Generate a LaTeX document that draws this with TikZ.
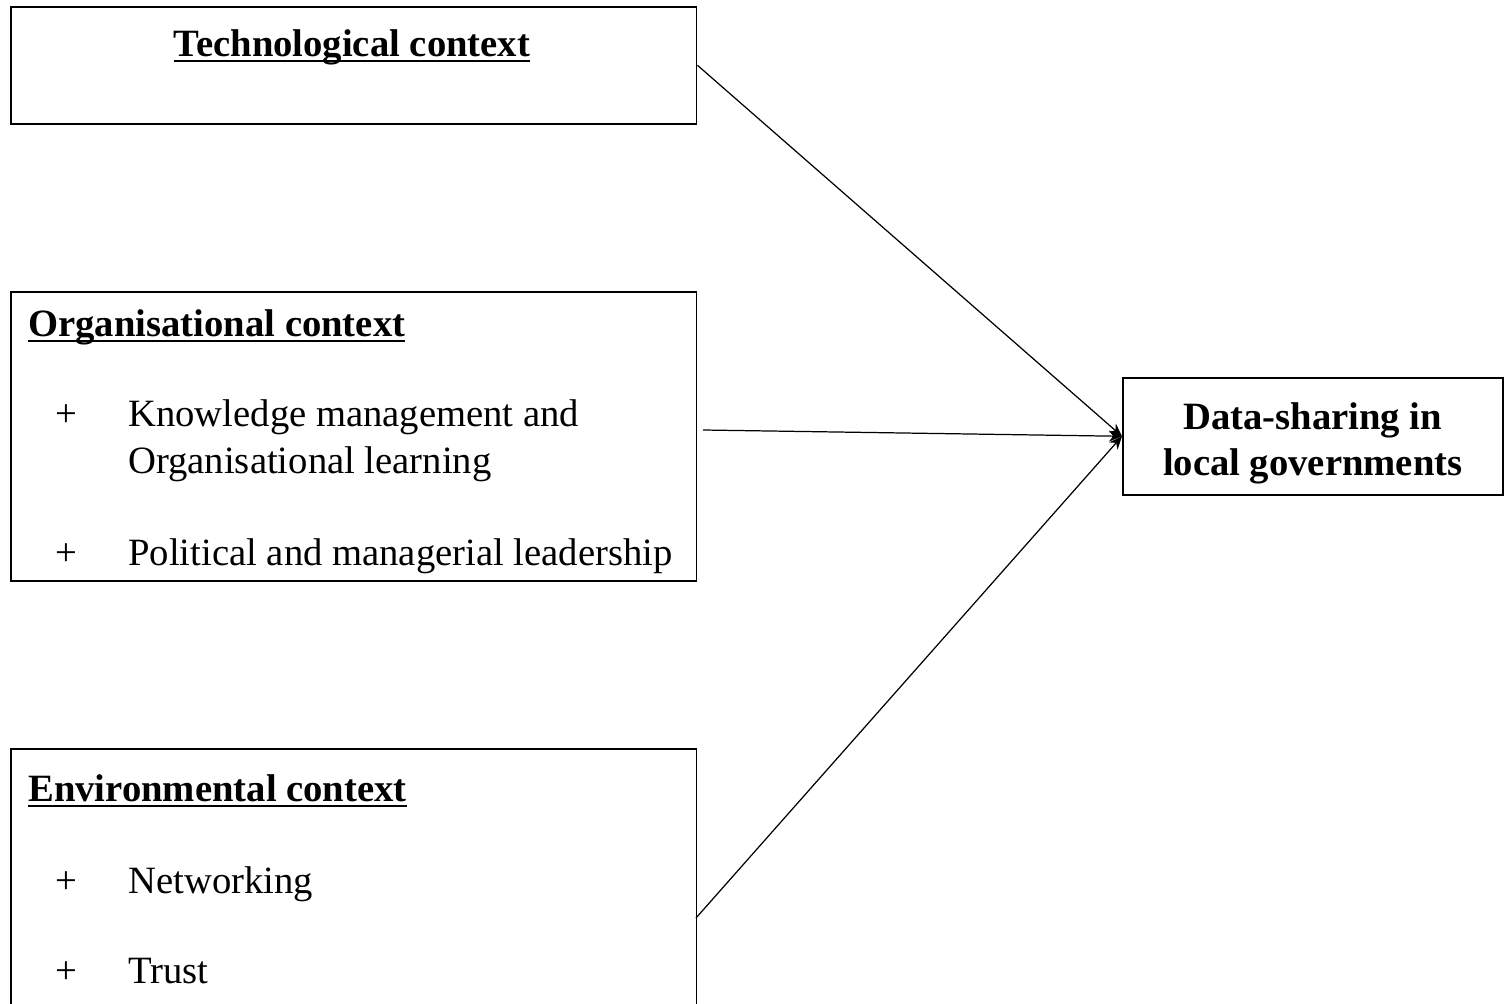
\documentclass[tikz,border=0pt]{standalone}
\usepackage{fontspec}
\setmainfont{Liberation Serif}
\usepackage{tikz}
\usetikzlibrary{arrows.meta,positioning,calc}
\newcommand\headtext[1]{\setbox0\hbox{\bfseries #1}\rlap{\rule[-3.2pt]{\wd0}{1.1pt}}\box0}
\tikzset{
  ctxbox/.style={draw, line width=0.9pt, inner sep=0pt, anchor=north west},
  head/.style={font=\fontsize{22}{26}\selectfont, inner sep=0pt, anchor=base west},
  item/.style={font=\fontsize{22}{26.5}\selectfont, inner sep=0pt, anchor=base west},
  plus/.style={font=\fontsize{22}{26}\selectfont, inner sep=0pt, anchor=base},
  outcome/.style={font=\fontsize{22}{26.2}\selectfont\bfseries, align=center},
  link/.style={-{Stealth[length=2.6mm,width=2.2mm]}, line width=0.7pt},
}
\begin{document}
\begin{tikzpicture}[x=0.02cm, y=-0.02cm]
  \useasboundingbox (0,0) rectangle (1509,1004);
  \clip (0,0) rectangle (1509,1004);
  % context boxes
  \node[ctxbox, minimum width=13.72cm, minimum height=2.34cm] (tech) at (10,6) {};
  \node[ctxbox, minimum width=13.72cm, minimum height=5.78cm] (org) at (10,291) {};
  \node[ctxbox, minimum width=13.72cm, minimum height=5.3cm] (env) at (10,748) {};
  \node[ctxbox, minimum width=7.6cm, minimum height=2.34cm] (data) at (1122,377) {};
  % headings
  \node[head, anchor=base] (techhead) at (352,56) {\headtext{Technological context}};
  \node[head] (orghead) at (28,336) {\headtext{Organisational context}};
  \node[head] (envhead) at (28,801) {\headtext{Environmental context}};
  % items
  \node[plus] (p1) at (66,426) {+};
  \node[item] (km) at (128,426) {Knowledge management and};
  \node[item] (kmb) at (128,473) {Organisational learning};
  \node[plus] (p2) at (66,565) {+};
  \node[item] (lead) at (128,565) {Political and managerial leadership};
  \node[plus] (p3) at (66,893) {+};
  \node[item] (net) at (128,893) {Networking};
  \node[plus] (p4) at (66,983) {+};
  \node[item] (trust) at (128,983) {Trust};
  % outcome
  \node[outcome, yshift=-4pt] (dslabel) at (data.center) {Data-sharing in\\local governments};
  % connectors
  \coordinate (orgout) at (703,430);
  \coordinate (envout) at (696,918);
  \draw[link] (tech.east) -- (data.west);
  \draw[link] (orgout) -- (data.west);
  \draw[link] (envout) -- (data.west);
\end{tikzpicture}
\end{document}
